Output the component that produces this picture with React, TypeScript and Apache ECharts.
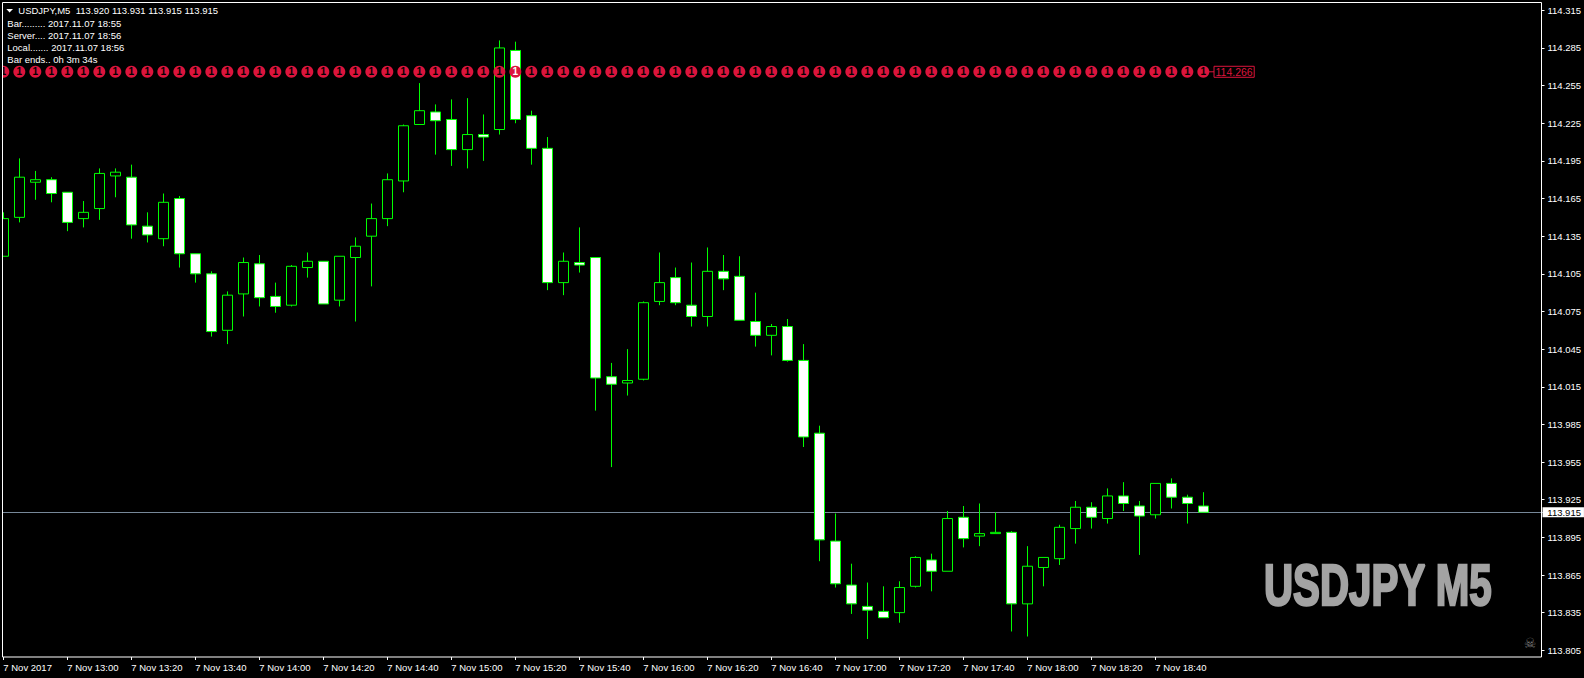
import React, { useEffect, useRef } from "react";
import * as echarts from "echarts";

const tickLabels = [
  "7 Nov 2017", "7 Nov 13:00", "7 Nov 13:20", "7 Nov 13:40", "7 Nov 14:00", "7 Nov 14:20", "7 Nov 14:40",
  "7 Nov 15:00", "7 Nov 15:20", "7 Nov 15:40", "7 Nov 16:00", "7 Nov 16:20", "7 Nov 16:40", "7 Nov 17:00",
  "7 Nov 17:20", "7 Nov 17:40", "7 Nov 18:00", "7 Nov 18:20", "7 Nov 18:40",
];

// open, close, low, high
const candles = [
  [114.119, 114.149, 114.119, 114.154], [114.150, 114.182, 114.146, 114.197], [114.178, 114.180, 114.164, 114.187],
  [114.180, 114.169, 114.162, 114.182], [114.170, 114.146, 114.139, 114.170], [114.149, 114.154, 114.142, 114.163],
  [114.157, 114.185, 114.148, 114.189], [114.183, 114.186, 114.166, 114.189], [114.182, 114.144, 114.133, 114.192],
  [114.143, 114.136, 114.130, 114.154], [114.133, 114.162, 114.127, 114.169], [114.165, 114.121, 114.110, 114.167],
  [114.121, 114.105, 114.098, 114.121], [114.105, 114.059, 114.055, 114.107], [114.060, 114.088, 114.049, 114.091],
  [114.089, 114.114, 114.071, 114.118], [114.113, 114.086, 114.079, 114.120], [114.087, 114.079, 114.074, 114.098],
  [114.080, 114.111, 114.079, 114.112], [114.110, 114.115, 114.102, 114.122], [114.115, 114.081, 114.081, 114.115],
  [114.084, 114.119, 114.079, 114.119], [114.118, 114.127, 114.067, 114.134], [114.135, 114.149, 114.095, 114.161],
  [114.149, 114.180, 114.143, 114.185], [114.179, 114.223, 114.170, 114.224], [114.224, 114.235, 114.224, 114.257],
  [114.234, 114.227, 114.200, 114.240], [114.228, 114.204, 114.191, 114.244], [114.204, 114.216, 114.189, 114.245],
  [114.216, 114.214, 114.195, 114.232], [114.220, 114.285, 114.216, 114.291], [114.283, 114.228, 114.225, 114.290],
  [114.231, 114.205, 114.192, 114.235], [114.205, 114.098, 114.092, 114.214], [114.098, 114.115, 114.088, 114.122],
  [114.114, 114.112, 114.106, 114.142], [114.118, 114.022, 113.996, 114.118], [114.023, 114.017, 113.951, 114.034],
  [114.018, 114.020, 114.008, 114.045], [114.021, 114.082, 114.020, 114.083], [114.083, 114.098, 114.080, 114.122],
  [114.102, 114.082, 114.080, 114.110], [114.080, 114.071, 114.063, 114.114], [114.071, 114.107, 114.063, 114.126],
  [114.107, 114.101, 114.092, 114.120], [114.103, 114.068, 114.068, 114.119], [114.067, 114.056, 114.047, 114.090],
  [114.056, 114.063, 114.040, 114.065], [114.063, 114.036, 114.035, 114.069], [114.036, 113.975, 113.967, 114.049],
  [113.978, 113.893, 113.876, 113.984], [113.892, 113.858, 113.855, 113.914], [113.857, 113.842, 113.834, 113.874],
  [113.840, 113.837, 113.814, 113.859], [113.836, 113.831, 113.831, 113.856], [113.835, 113.855, 113.827, 113.860],
  [113.856, 113.879, 113.855, 113.880], [113.877, 113.868, 113.852, 113.882], [113.868, 113.910, 113.868, 113.916],
  [113.911, 113.894, 113.887, 113.920], [113.896, 113.898, 113.888, 113.922], [113.898, 113.899, 113.898, 113.915],
  [113.899, 113.842, 113.820, 113.900], [113.842, 113.872, 113.816, 113.888], [113.871, 113.879, 113.856, 113.879],
  [113.878, 113.903, 113.873, 113.905], [113.902, 113.919, 113.890, 113.924], [113.919, 113.911, 113.902, 113.923],
  [113.910, 113.928, 113.906, 113.934], [113.928, 113.922, 113.916, 113.939], [113.920, 113.912, 113.881, 113.924],
  [113.913, 113.938, 113.910, 113.938], [113.938, 113.927, 113.918, 113.942], [113.927, 113.922, 113.906, 113.929],
  [113.920, 113.915, 113.915, 113.931],
];

const alertPrice = 114.266;
const lastPrice = 113.915;
const infoLines = [
  "Bar......... 2017.11.07 18:55",
  "Server.... 2017.11.07 18:56",
  "Local....... 2017.11.07 18:56",
  "Bar ends.. 0h 3m 34s",
];
const headerText = "USDJPY,M5  113.920 113.931 113.915 113.915";
const watermark = "USDJPY M5";

const SLOTS = 97;
const FONT = '"Liberation Sans", Arial, sans-serif';
const categories = Array.from({ length: SLOTS }, (_, i) => (i % 4 === 0 && tickLabels[i / 4]) || "");
const showTick = (i: number) => i % 4 === 0 && i / 4 < tickLabels.length;
const CRIMSON = "#dc143c";

export default function App() {
  const ref = useRef<HTMLDivElement>(null);
  useEffect(() => {
    const chart = echarts.init(ref.current!, null, { renderer: "svg" });
    chart.setOption({
      animation: false,
      backgroundColor: "#000",
      textStyle: { fontFamily: FONT },
      grid: { left: -4.67, top: 10.3, width: 16 * SLOTS, height: 640, containLabel: false, outerBoundsMode: "none" },
      xAxis: {
        type: "category",
        data: categories,
        boundaryGap: true,
        position: "bottom",
        offset: 6.7,
        axisLine: { show: false },
        splitLine: { show: false },
        axisTick: { show: true, alignWithLabel: true, length: 3, interval: (i: number) => showTick(i), lineStyle: { color: "#fff", width: 1 } },
        axisLabel: {
          show: true,
          interval: (i: number) => showTick(i),
          hideOverlap: false,
          align: "left",
          color: "#fff",
          fontSize: 9.5,
          fontFamily: FONT,
          margin: 5,
        },
      },
      yAxis: {
        type: "value",
        position: "right",
        offset: -5.83,
        min: 113.805,
        max: 114.315,
        interval: 0.03,
        scale: true,
        axisLine: { show: false },
        splitLine: { show: false },
        axisTick: { show: true, length: 3, lineStyle: { color: "#fff", width: 1 } },
        axisLabel: {
          show: true,
          color: "#fff",
          fontSize: 9.5,
          fontFamily: FONT,
          margin: 6,
          showMinLabel: true,
          showMaxLabel: true,
          formatter: (v: number) => v.toFixed(3),
        },
      },
      series: [
        {
          type: "line",
          z: 1,
          data: [],
          showSymbol: false,
          markLine: {
            silent: true,
            z: 1,
            symbol: "none",
            precision: 3,
            lineStyle: { color: "#778899", width: 1, type: "solid" },
            data: [{ yAxis: lastPrice }],
            label: {
              show: true,
              position: "end",
              distance: -4.8,
              formatter: lastPrice.toFixed(3),
              color: "#000",
              backgroundColor: "#fff",
              fontFamily: FONT,
              fontSize: 9.5,
              lineHeight: 10,
              padding: [0, 3, 0, 4.8],
            },
          },
        },
        {
          type: "candlestick",
          z: 2,
          barWidth: 10,
          data: candles,
          itemStyle: { color: "#000", color0: "#fff", borderColor: "#00ff00", borderColor0: "#00ff00", borderWidth: 1 },
        },
        {
          type: "scatter",
          z: 3,
          symbol: "circle",
          symbolSize: 12,
          itemStyle: { color: CRIMSON, opacity: 1 },
          data: candles.map((_, i) => ({
            value: [i, alertPrice],
            label: { color: i === 32 ? "#fff" : "#000" },
          })),
          label: {
            show: true,
            position: "inside",
            formatter: "1",
            fontFamily: FONT,
            fontSize: 10,
            fontWeight: "bold",
          },
        },
        {
          type: "scatter",
          z: 3,
          symbol: "rect",
          symbolSize: [5, 1],
          symbolOffset: [8.2, 0],
          itemStyle: { color: CRIMSON, opacity: 1 },
          data: [[candles.length - 1, alertPrice]],
          label: {
            show: true,
            position: "right",
            distance: 0,
            formatter: alertPrice.toFixed(3),
            color: CRIMSON,
            fontFamily: FONT,
            fontSize: 10.5,
            lineHeight: 11,
            padding: [0, 1.5, 0, 1.5],
            borderColor: CRIMSON,
            borderWidth: 1,
          },
        },
      ],
      graphic: [
        { type: "rect", z: 100, shape: { x: 0, y: 0, width: 2, height: 678 }, style: { fill: "#000" }, silent: true },
        {
          type: "rect",
          z: 101,
          shape: { x: 2.5, y: 2.5, width: 1539, height: 654.5 },
          style: { fill: "none", stroke: "#fff", lineWidth: 1 },
          silent: true,
        },
        {
          type: "polygon",
          z: 102,
          shape: { points: [[6.3, 9], [13, 9], [9.6, 12.6]] },
          style: { fill: "#fff" },
          silent: true,
        },
        {
          type: "text",
          z: 102,
          x: 18.3,
          y: 10.7,
          style: { text: headerText, fill: "#fff", font: `9.5px ${FONT}`, textVerticalAlign: "middle" },
          silent: true,
        },
        ...infoLines.map((t, i) => ({
          type: "text",
          z: 102,
          x: 7.3,
          y: 23.7 + i * 11.9,
          style: { text: t, fill: "#fff", font: `9.5px ${FONT}`, textVerticalAlign: "middle" },
          silent: true,
        })),
        {
          type: "text",
          z: 102,
          x: 1264,
          y: 585,
          scaleX: 0.695,
          style: {
            text: watermark,
            fill: "#a3a3a3",
            stroke: "#a3a3a3",
            lineWidth: 2.5,
            font: `bold 58px ${FONT}`,
            textVerticalAlign: "middle",
          },
          silent: true,
        },
        {
          type: "text",
          z: 102,
          x: 1530,
          y: 643,
          style: { text: "\u2620", fill: "#777", font: '14px "DejaVu Sans"', textAlign: "center", textVerticalAlign: "middle" },
          silent: true,
        },
      ],
    });
    return () => chart.dispose();
  }, []);
  return (
    <div
      ref={ref}
      style={{ position: "absolute", left: 0, top: 0, width: 1584, height: 678, background: "#000", overflow: "hidden" }}
    />
  );
}
